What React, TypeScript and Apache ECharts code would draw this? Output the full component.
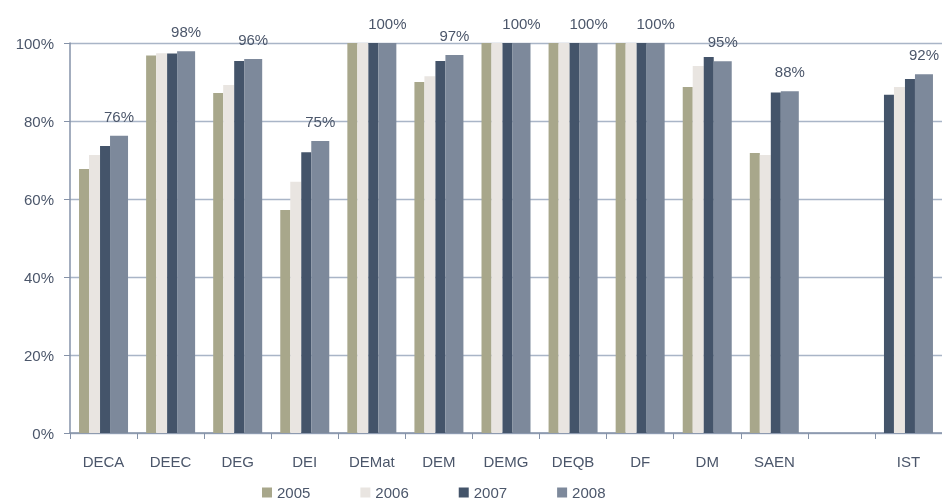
import React, { useEffect, useRef } from "react";
import * as echarts from "echarts";

const categories = ["DECA", "DEEC", "DEG", "DEI", "DEMat", "DEM", "DEMG", "DEQB", "DF", "DM", "SAEN", "", "IST"];
const seriesNames = ["2005", "2006", "2007", "2008"];
const values2005 = [67.7, 96.8, 87.2, 57.2, 100, 90, 100, 100, 100, 88.7, 71.8, null, 86.7];
const values2006 = [71.3, 97.4, 89.2, 64.4, 100, 91.5, 100, 100, 100, 94.1, 71.3, null, 88.7];
const values2007 = [73.6, 97.3, 95.4, 72.0, 100, 95.4, 100, 100, 100, 96.4, 87.3, null, 90.8];
const values2008 = [76.2, 97.9, 95.9, 74.9, 100, 96.9, 100, 100, 100, 95.3, 87.6, null, 92.0];
const yTicks = [0, 20, 40, 60, 80, 100];

const colors = ["#a8a78b", "#e9e5e1", "#44546a", "#7d899b"];
const barWidths = [10, 11, 10, 18];
const textColor = "#4b566a";
const font = "'Liberation Sans', Arial, sans-serif";

export default function App() {
  const ref = useRef<HTMLDivElement>(null);
  useEffect(() => {
    if (!ref.current) return;
    const chart = echarts.init(ref.current, null, { renderer: "svg" });
    const data2005 = values2005.map((v, i) =>
      categories[i] === "IST" ? { value: v, itemStyle: { color: colors[2] } } : v
    );
    const all = [data2005, values2006, values2007, values2008];
    chart.setOption({
      animation: false,
      textStyle: { fontFamily: font },
      grid: { left: 70, top: 43, width: 875, height: 390, containLabel: false },
      legend: {
        data: seriesNames,
        left: 262,
        top: 485,
        padding: 0,
        itemWidth: 10,
        itemHeight: 10,
        itemGap: 50,
        icon: "rect",
        textStyle: { color: textColor, fontSize: 15, fontFamily: font },
      },
      xAxis: {
        type: "category",
        data: categories,
        axisLine: { show: true, lineStyle: { color: "#8592a8", width: 1.5 } },
        axisTick: { show: true, length: 6, lineStyle: { color: "#8592a8" } },
        axisLabel: { color: textColor, fontSize: 15, margin: 21, fontFamily: font },
      },
      yAxis: {
        type: "value",
        min: yTicks[0],
        max: yTicks[yTicks.length - 1],
        interval: 20,
        axisLine: { show: true, lineStyle: { color: "#8592a8", width: 1.5 } },
        axisTick: { show: true, length: 6, lineStyle: { color: "#8592a8" } },
        axisLabel: { color: textColor, fontSize: 15, margin: 16, formatter: "{value}%", fontFamily: font },
        splitLine: { show: true, lineStyle: { color: "#a9b5c7", width: 1.3 } },
      },
      series: seriesNames.map((name, i) => ({
        name,
        type: "bar",
        data: all[i],
        barWidth: barWidths[i],
        barGap: "0%",
        itemStyle: { color: colors[i] },
        label:
          i === 3
            ? {
                show: true,
                position: "top",
                distance: 12,
                color: textColor,
                fontSize: 15,
                fontFamily: font,
                formatter: (p: any) => `${Math.round(p.value)}%`,
              }
            : { show: false },
      })),
    });
    return () => chart.dispose();
  }, []);
  return (
    <div
      ref={ref}
      style={{ position: "fixed", left: 0, top: 0, width: 942, height: 501 }}
    />
  );
}
